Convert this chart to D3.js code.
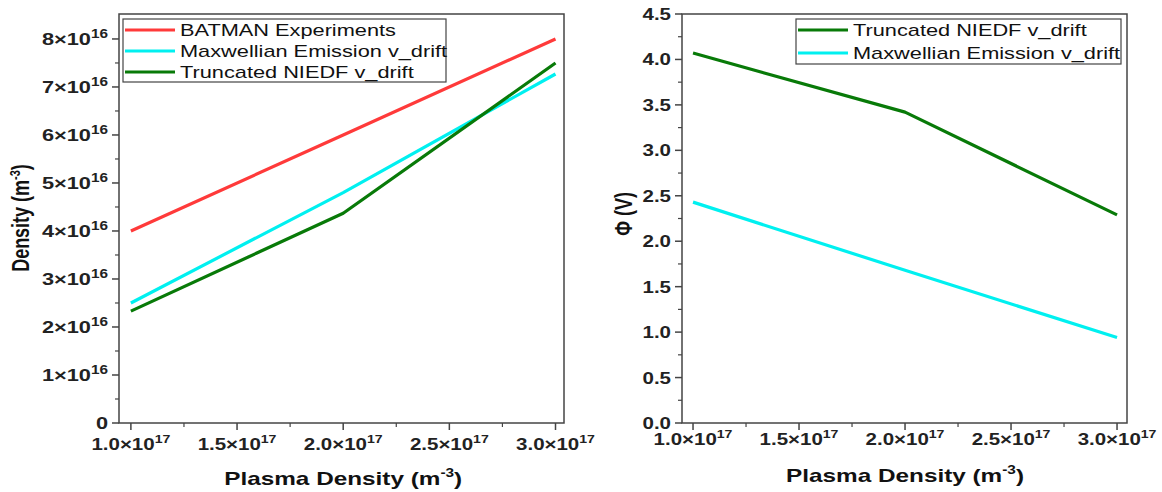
<!DOCTYPE html>
<html>
<head>
<meta charset="utf-8">
<script src="https://cdn.jsdelivr.net/npm/d3@7"></script>
<style>
  body { margin: 0; background: #fff; }
  svg { font-family: "Liberation Sans", Arial, sans-serif; }
</style>
</head>
<body>
<div id="chart"></div>
<script>
// plasma density (units of 1e17 m^-3)
const plasma = [1.0, 2.0, 3.0];

// left panel: density (units of 1e16 m^-3)
const batman = [4.0, 6.0, 8.0];
const maxwellDensity = [2.5, 4.8, 7.27];
const truncDensity = [2.33, 4.37, 7.5];

// right panel: potential (V)
const truncPhi = [4.07, 3.42, 2.29];
const maxwellPhi = [2.43, 1.68, 0.94];

const xTicks = [1.0, 1.5, 2.0, 2.5, 3.0];
const densTicks = [0, 1, 2, 3, 4, 5, 6, 7, 8];
const phiTicks = [0, 0.5, 1, 1.5, 2, 2.5, 3, 3.5, 4, 4.5];

const RED = "#ff3a3a", CYAN = "#00f0f0", GREEN = "#087a08", AXIS = "#444";
// the original picture is a bit stretched sideways, text too
const SX = 1.28;

const svg = d3.select("#chart").append("svg")
  .attr("width", 1162)
  .attr("height", 492);

// text placed at (x,y) and widened horizontally
function stext(parent, x, y) {
  return parent.append("g")
    .attr("transform", `translate(${x},${y}) scale(${SX},1)`)
    .append("text");
}

// writes "a×10^b" into a text node
function sciLabel(sel, mant, exp, size) {
  sel.append("tspan").text(mant + "\u00d710");
  sel.append("tspan").attr("dy", -7).attr("font-size", size).text(exp);
}

function panel(opt) {
  const g = svg.append("g");
  const x = d3.scaleLinear().domain(opt.xDomain).range([opt.left, opt.right]);
  const y = d3.scaleLinear().domain(opt.yDomain).range([opt.bottom, opt.top]);

  // frame
  g.append("rect")
    .attr("x", opt.left).attr("y", opt.top)
    .attr("width", opt.right - opt.left).attr("height", opt.bottom - opt.top)
    .attr("fill", "none").attr("stroke", AXIS).attr("stroke-width", 1.5);

  // x ticks
  const xMinor = d3.range(1.25, 3.0, 0.5);
  g.selectAll(".xmaj").data(xTicks).join("line")
    .attr("x1", d => x(d)).attr("x2", d => x(d))
    .attr("y1", opt.bottom).attr("y2", opt.bottom + 7)
    .attr("stroke", AXIS).attr("stroke-width", 1.5);
  g.selectAll(".xmin").data(xMinor).join("line")
    .attr("x1", d => x(d)).attr("x2", d => x(d))
    .attr("y1", opt.bottom).attr("y2", opt.bottom + 4)
    .attr("stroke", AXIS).attr("stroke-width", 1.2);
  xTicks.forEach(d => {
    const t = stext(g, x(d), opt.xLabY)
      .attr("text-anchor", "middle")
      .attr("font-size", 16).attr("font-weight", "bold").attr("fill", "#222");
    sciLabel(t, d.toFixed(1), "17", 11);
  });

  // y ticks
  const step = opt.yTicks[1] - opt.yTicks[0];
  const yMinor = opt.yTicks.slice(0, -1).map(d => d + step / 2);
  g.selectAll(".ymaj").data(opt.yTicks).join("line")
    .attr("x1", opt.left - 7).attr("x2", opt.left)
    .attr("y1", d => y(d)).attr("y2", d => y(d))
    .attr("stroke", AXIS).attr("stroke-width", 1.5);
  g.selectAll(".ymin").data(yMinor).join("line")
    .attr("x1", opt.left - 4).attr("x2", opt.left)
    .attr("y1", d => y(d)).attr("y2", d => y(d))
    .attr("stroke", AXIS).attr("stroke-width", 1.2);
  opt.yTicks.forEach(d => {
    const t = stext(g, opt.left - 11, y(d) + 6)
      .attr("text-anchor", "end")
      .attr("font-size", opt.yTickSize).attr("font-weight", "bold").attr("fill", "#222");
    opt.yLabel(t, d);
  });

  // axis titles
  const xt = stext(g, (x(1.0) + x(3.0)) / 2, opt.xTitleY)
    .attr("text-anchor", "middle")
    .attr("font-size", 19).attr("font-weight", "bold").attr("fill", "#111");
  xt.append("tspan").text("Plasma Density (m");
  xt.append("tspan").attr("dy", -8).attr("font-size", 12).text("-3");
  xt.append("tspan").attr("dy", 8).text(")");

  const yt = g.append("text")
    .attr("transform", `translate(${opt.yTitleX},${opt.yTitleY}) rotate(-90) scale(1,${SX})`)
    .attr("text-anchor", "middle")
    .attr("font-size", 18).attr("font-weight", "bold").attr("fill", "#111");
  opt.yTitle(yt);

  // lines
  const line = d3.line().x((d, i) => x(plasma[i])).y(d => y(d));
  opt.series.forEach(s => {
    g.append("path").datum(s.values)
      .attr("d", line)
      .attr("fill", "none").attr("stroke", s.color)
      .attr("stroke-width", 3.2).attr("stroke-linejoin", "round");
  });

  // legend
  const lg = opt.legend;
  g.append("rect")
    .attr("x", lg.x).attr("y", lg.y).attr("width", lg.w).attr("height", lg.h)
    .attr("fill", "#fff").attr("stroke", AXIS).attr("stroke-width", 1.2);
  lg.items.forEach((s, i) => {
    const yy = lg.y + 11 + i * lg.gap;
    g.append("line")
      .attr("x1", lg.x + 2).attr("x2", lg.x + 52)
      .attr("y1", yy).attr("y2", yy)
      .attr("stroke", s.color).attr("stroke-width", 3);
    stext(g, lg.x + 57, yy + 6)
      .attr("font-size", 17).attr("fill", "#111")
      .text(s.name);
  });
}

const leftSeries = [
  { name: "BATMAN Experiments", values: batman, color: RED },
  { name: "Maxwellian Emission v_drift", values: maxwellDensity, color: CYAN },
  { name: "Truncated NIEDF v_drift", values: truncDensity, color: GREEN }
];

panel({
  left: 119, right: 564, top: 14, bottom: 423,
  xDomain: [0.944, 3.04],
  yDomain: [0, 8.52],
  yTicks: densTicks,
  yTickSize: 17,
  yLabel: (sel, d) => { if (d === 0) sel.text("0"); else sciLabel(sel, d, "16", 12); },
  xLabY: 450, xTitleY: 485,
  yTitleX: 29, yTitleY: 218,
  yTitle: t => {
    t.append("tspan").text("Density (m");
    t.append("tspan").attr("dy", -7).attr("font-size", 11).text("-3");
    t.append("tspan").attr("dy", 7).text(")");
  },
  series: leftSeries,
  legend: { x: 123, y: 19, w: 323, h: 63, gap: 21, items: leftSeries }
});

const rightSeries = [
  { name: "Truncated NIEDF v_drift", values: truncPhi, color: GREEN },
  { name: "Maxwellian Emission v_drift", values: maxwellPhi, color: CYAN }
];

panel({
  left: 682, right: 1127, top: 14, bottom: 423,
  xDomain: [0.948, 3.047],
  yDomain: [0, 4.5],
  yTicks: phiTicks,
  yTickSize: 16,
  yLabel: (sel, d) => sel.text(d.toFixed(1)),
  xLabY: 445, xTitleY: 482,
  yTitleX: 632, yTitleY: 214,
  yTitle: t => t.text("\u03a6 (V)"),
  series: rightSeries,
  legend: { x: 796, y: 19, w: 325, h: 45, gap: 23, items: rightSeries }
});
</script>
</body>
</html>
